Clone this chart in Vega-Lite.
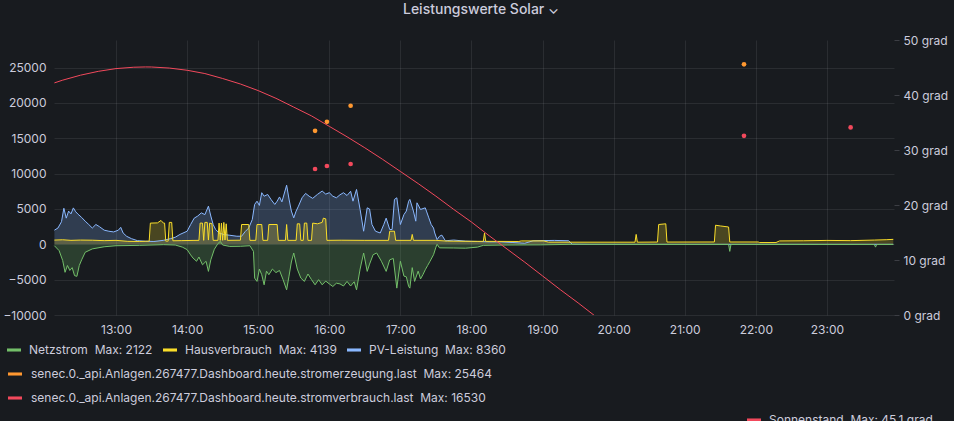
{
 "$schema": "https://vega.github.io/schema/vega-lite/v6.json",
 "width": 840,
 "height": 275,
 "autosize": {"type": "none"},
 "padding": {"left": 54, "top": 40, "right": 60, "bottom": 106},
 "background": "#181b1f",
 "title": {"text": "Leistungswerte Solar ⌄", "anchor": "middle", "dx": 7, "offset": 17, "fontSize": 14, "fontWeight": 500, "color": "#ccccdc", "font": "Inter"},
 "datasets": {
  "power": [
   {"t":"2023-09-05T12:08Z","s":"PV-Leistung","v":2000},{"t":"2023-09-05T12:11Z","s":"PV-Leistung","v":2300},{"t":"2023-09-05T12:14Z","s":"PV-Leistung","v":3200},{"t":"2023-09-05T12:16Z","s":"PV-Leistung","v":5100},{"t":"2023-09-05T12:18Z","s":"PV-Leistung","v":3700},{"t":"2023-09-05T12:20Z","s":"PV-Leistung","v":4700},{"t":"2023-09-05T12:22Z","s":"PV-Leistung","v":4300},{"t":"2023-09-05T12:24Z","s":"PV-Leistung","v":5150},{"t":"2023-09-05T12:26Z","s":"PV-Leistung","v":4600},{"t":"2023-09-05T12:28Z","s":"PV-Leistung","v":4250},{"t":"2023-09-05T12:31Z","s":"PV-Leistung","v":3800},{"t":"2023-09-05T12:34Z","s":"PV-Leistung","v":3270},{"t":"2023-09-05T12:37Z","s":"PV-Leistung","v":2800},{"t":"2023-09-05T12:40Z","s":"PV-Leistung","v":2300},{"t":"2023-09-05T12:43Z","s":"PV-Leistung","v":2800},{"t":"2023-09-05T12:46Z","s":"PV-Leistung","v":2500},{"t":"2023-09-05T12:50Z","s":"PV-Leistung","v":2000},{"t":"2023-09-05T12:54Z","s":"PV-Leistung","v":1850},{"t":"2023-09-05T12:58Z","s":"PV-Leistung","v":1750},{"t":"2023-09-05T13:02Z","s":"PV-Leistung","v":2000},{"t":"2023-09-05T13:04Z","s":"PV-Leistung","v":2400},{"t":"2023-09-05T13:06Z","s":"PV-Leistung","v":1600},{"t":"2023-09-05T13:09Z","s":"PV-Leistung","v":1130},{"t":"2023-09-05T13:13Z","s":"PV-Leistung","v":800},{"t":"2023-09-05T13:18Z","s":"PV-Leistung","v":520},{"t":"2023-09-05T13:25Z","s":"PV-Leistung","v":430},{"t":"2023-09-05T13:32Z","s":"PV-Leistung","v":400},{"t":"2023-09-05T13:40Z","s":"PV-Leistung","v":560},{"t":"2023-09-05T13:46Z","s":"PV-Leistung","v":800},{"t":"2023-09-05T13:50Z","s":"PV-Leistung","v":1000},{"t":"2023-09-05T13:54Z","s":"PV-Leistung","v":1400},{"t":"2023-09-05T14:00Z","s":"PV-Leistung","v":1850},{"t":"2023-09-05T14:03Z","s":"PV-Leistung","v":2800},{"t":"2023-09-05T14:06Z","s":"PV-Leistung","v":3700},{"t":"2023-09-05T14:09Z","s":"PV-Leistung","v":4000},{"t":"2023-09-05T14:12Z","s":"PV-Leistung","v":4450},{"t":"2023-09-05T14:15Z","s":"PV-Leistung","v":4200},{"t":"2023-09-05T14:18Z","s":"PV-Leistung","v":5400},{"t":"2023-09-05T14:20Z","s":"PV-Leistung","v":4000},{"t":"2023-09-05T14:22Z","s":"PV-Leistung","v":2800},{"t":"2023-09-05T14:24Z","s":"PV-Leistung","v":2100},{"t":"2023-09-05T14:27Z","s":"PV-Leistung","v":1600},{"t":"2023-09-05T14:31Z","s":"PV-Leistung","v":1380},{"t":"2023-09-05T14:36Z","s":"PV-Leistung","v":1280},{"t":"2023-09-05T14:42Z","s":"PV-Leistung","v":1140},{"t":"2023-09-05T14:46Z","s":"PV-Leistung","v":1140},{"t":"2023-09-05T14:49Z","s":"PV-Leistung","v":1800},{"t":"2023-09-05T14:52Z","s":"PV-Leistung","v":2300},{"t":"2023-09-05T14:55Z","s":"PV-Leistung","v":3500},{"t":"2023-09-05T14:57Z","s":"PV-Leistung","v":5640},{"t":"2023-09-05T14:59Z","s":"PV-Leistung","v":6100},{"t":"2023-09-05T15:01Z","s":"PV-Leistung","v":5500},{"t":"2023-09-05T15:03Z","s":"PV-Leistung","v":7300},{"t":"2023-09-05T15:05Z","s":"PV-Leistung","v":6800},{"t":"2023-09-05T15:08Z","s":"PV-Leistung","v":7050},{"t":"2023-09-05T15:11Z","s":"PV-Leistung","v":6300},{"t":"2023-09-05T15:14Z","s":"PV-Leistung","v":5640},{"t":"2023-09-05T15:16Z","s":"PV-Leistung","v":6100},{"t":"2023-09-05T15:18Z","s":"PV-Leistung","v":6700},{"t":"2023-09-05T15:20Z","s":"PV-Leistung","v":6000},{"t":"2023-09-05T15:24Z","s":"PV-Leistung","v":8360},{"t":"2023-09-05T15:26Z","s":"PV-Leistung","v":6400},{"t":"2023-09-05T15:28Z","s":"PV-Leistung","v":4700},{"t":"2023-09-05T15:30Z","s":"PV-Leistung","v":3740},{"t":"2023-09-05T15:32Z","s":"PV-Leistung","v":4700},{"t":"2023-09-05T15:34Z","s":"PV-Leistung","v":5400},{"t":"2023-09-05T15:37Z","s":"PV-Leistung","v":6580},{"t":"2023-09-05T15:40Z","s":"PV-Leistung","v":7200},{"t":"2023-09-05T15:43Z","s":"PV-Leistung","v":6800},{"t":"2023-09-05T15:46Z","s":"PV-Leistung","v":6500},{"t":"2023-09-05T15:50Z","s":"PV-Leistung","v":7060},{"t":"2023-09-05T15:54Z","s":"PV-Leistung","v":7530},{"t":"2023-09-05T15:57Z","s":"PV-Leistung","v":7100},{"t":"2023-09-05T16:00Z","s":"PV-Leistung","v":7300},{"t":"2023-09-05T16:03Z","s":"PV-Leistung","v":6800},{"t":"2023-09-05T16:06Z","s":"PV-Leistung","v":6580},{"t":"2023-09-05T16:09Z","s":"PV-Leistung","v":7000},{"t":"2023-09-05T16:12Z","s":"PV-Leistung","v":7300},{"t":"2023-09-05T16:15Z","s":"PV-Leistung","v":6900},{"t":"2023-09-05T16:18Z","s":"PV-Leistung","v":7500},{"t":"2023-09-05T16:20Z","s":"PV-Leistung","v":6100},{"t":"2023-09-05T16:23Z","s":"PV-Leistung","v":7760},{"t":"2023-09-05T16:26Z","s":"PV-Leistung","v":4930},{"t":"2023-09-05T16:29Z","s":"PV-Leistung","v":1850},{"t":"2023-09-05T16:32Z","s":"PV-Leistung","v":5160},{"t":"2023-09-05T16:34Z","s":"PV-Leistung","v":5000},{"t":"2023-09-05T16:36Z","s":"PV-Leistung","v":2800},{"t":"2023-09-05T16:39Z","s":"PV-Leistung","v":1850},{"t":"2023-09-05T16:43Z","s":"PV-Leistung","v":1600},{"t":"2023-09-05T16:46Z","s":"PV-Leistung","v":2800},{"t":"2023-09-05T16:48Z","s":"PV-Leistung","v":3700},{"t":"2023-09-05T16:51Z","s":"PV-Leistung","v":2100},{"t":"2023-09-05T16:53Z","s":"PV-Leistung","v":2090},{"t":"2023-09-05T16:55Z","s":"PV-Leistung","v":6350},{"t":"2023-09-05T16:57Z","s":"PV-Leistung","v":6580},{"t":"2023-09-05T17:00Z","s":"PV-Leistung","v":2800},{"t":"2023-09-05T17:03Z","s":"PV-Leistung","v":4200},{"t":"2023-09-05T17:05Z","s":"PV-Leistung","v":4700},{"t":"2023-09-05T17:07Z","s":"PV-Leistung","v":6100},{"t":"2023-09-05T17:08Z","s":"PV-Leistung","v":6350},{"t":"2023-09-05T17:11Z","s":"PV-Leistung","v":4700},{"t":"2023-09-05T17:13Z","s":"PV-Leistung","v":3270},{"t":"2023-09-05T17:14Z","s":"PV-Leistung","v":5870},{"t":"2023-09-05T17:17Z","s":"PV-Leistung","v":4930},{"t":"2023-09-05T17:21Z","s":"PV-Leistung","v":5160},{"t":"2023-09-05T17:22Z","s":"PV-Leistung","v":4700},{"t":"2023-09-05T17:24Z","s":"PV-Leistung","v":3740},{"t":"2023-09-05T17:26Z","s":"PV-Leistung","v":2800},{"t":"2023-09-05T17:28Z","s":"PV-Leistung","v":2300},{"t":"2023-09-05T17:29Z","s":"PV-Leistung","v":1600},{"t":"2023-09-05T17:31Z","s":"PV-Leistung","v":660},{"t":"2023-09-05T17:33Z","s":"PV-Leistung","v":1140},{"t":"2023-09-05T17:35Z","s":"PV-Leistung","v":1300},{"t":"2023-09-05T17:38Z","s":"PV-Leistung","v":500},{"t":"2023-09-05T17:45Z","s":"PV-Leistung","v":600},{"t":"2023-09-05T17:55Z","s":"PV-Leistung","v":450},{"t":"2023-09-05T18:05Z","s":"PV-Leistung","v":400},{"t":"2023-09-05T18:15Z","s":"PV-Leistung","v":350},{"t":"2023-09-05T18:25Z","s":"PV-Leistung","v":350},{"t":"2023-09-05T18:35Z","s":"PV-Leistung","v":250},{"t":"2023-09-05T18:45Z","s":"PV-Leistung","v":150},{"t":"2023-09-05T18:52Z","s":"PV-Leistung","v":500},{"t":"2023-09-05T19:10Z","s":"PV-Leistung","v":550},{"t":"2023-09-05T19:22Z","s":"PV-Leistung","v":500},{"t":"2023-09-05T19:25Z","s":"PV-Leistung","v":20},{"t":"2023-09-05T19:40Z","s":"PV-Leistung","v":0},{"t":"2023-09-05T21:00Z","s":"PV-Leistung","v":0},{"t":"2023-09-05T23:56Z","s":"PV-Leistung","v":0},
   {"t":"2023-09-05T12:08Z","s":"Netzstrom","v":-200},{"t":"2023-09-05T12:12Z","s":"Netzstrom","v":-900},{"t":"2023-09-05T12:15Z","s":"Netzstrom","v":-2300},{"t":"2023-09-05T12:17Z","s":"Netzstrom","v":-3960},{"t":"2023-09-05T12:19Z","s":"Netzstrom","v":-3000},{"t":"2023-09-05T12:21Z","s":"Netzstrom","v":-3700},{"t":"2023-09-05T12:23Z","s":"Netzstrom","v":-3300},{"t":"2023-09-05T12:25Z","s":"Netzstrom","v":-4430},{"t":"2023-09-05T12:27Z","s":"Netzstrom","v":-4530},{"t":"2023-09-05T12:29Z","s":"Netzstrom","v":-3000},{"t":"2023-09-05T12:31Z","s":"Netzstrom","v":-2200},{"t":"2023-09-05T12:34Z","s":"Netzstrom","v":-1130},{"t":"2023-09-05T12:40Z","s":"Netzstrom","v":-650},{"t":"2023-09-05T12:50Z","s":"Netzstrom","v":-350},{"t":"2023-09-05T13:00Z","s":"Netzstrom","v":-200},{"t":"2023-09-05T13:20Z","s":"Netzstrom","v":-150},{"t":"2023-09-05T13:40Z","s":"Netzstrom","v":-50},{"t":"2023-09-05T13:50Z","s":"Netzstrom","v":-100},{"t":"2023-09-05T13:56Z","s":"Netzstrom","v":-400},{"t":"2023-09-05T14:00Z","s":"Netzstrom","v":-750},{"t":"2023-09-05T14:03Z","s":"Netzstrom","v":-1500},{"t":"2023-09-05T14:05Z","s":"Netzstrom","v":-1950},{"t":"2023-09-05T14:08Z","s":"Netzstrom","v":-2400},{"t":"2023-09-05T14:10Z","s":"Netzstrom","v":-1800},{"t":"2023-09-05T14:13Z","s":"Netzstrom","v":-2900},{"t":"2023-09-05T14:16Z","s":"Netzstrom","v":-2400},{"t":"2023-09-05T14:18Z","s":"Netzstrom","v":-3830},{"t":"2023-09-05T14:20Z","s":"Netzstrom","v":-2200},{"t":"2023-09-05T14:23Z","s":"Netzstrom","v":-700},{"t":"2023-09-05T14:26Z","s":"Netzstrom","v":100},{"t":"2023-09-05T14:28Z","s":"Netzstrom","v":430},{"t":"2023-09-05T14:30Z","s":"Netzstrom","v":-100},{"t":"2023-09-05T14:36Z","s":"Netzstrom","v":-300},{"t":"2023-09-05T14:45Z","s":"Netzstrom","v":-280},{"t":"2023-09-05T14:53Z","s":"Netzstrom","v":-200},{"t":"2023-09-05T14:56Z","s":"Netzstrom","v":-1000},{"t":"2023-09-05T14:57Z","s":"Netzstrom","v":-4780},{"t":"2023-09-05T14:59Z","s":"Netzstrom","v":-5250},{"t":"2023-09-05T15:01Z","s":"Netzstrom","v":-3500},{"t":"2023-09-05T15:03Z","s":"Netzstrom","v":-4300},{"t":"2023-09-05T15:05Z","s":"Netzstrom","v":-5730},{"t":"2023-09-05T15:07Z","s":"Netzstrom","v":-3800},{"t":"2023-09-05T15:09Z","s":"Netzstrom","v":-4300},{"t":"2023-09-05T15:12Z","s":"Netzstrom","v":-3500},{"t":"2023-09-05T15:15Z","s":"Netzstrom","v":-4000},{"t":"2023-09-05T15:18Z","s":"Netzstrom","v":-3700},{"t":"2023-09-05T15:21Z","s":"Netzstrom","v":-5000},{"t":"2023-09-05T15:24Z","s":"Netzstrom","v":-6440},{"t":"2023-09-05T15:26Z","s":"Netzstrom","v":-4500},{"t":"2023-09-05T15:28Z","s":"Netzstrom","v":-2500},{"t":"2023-09-05T15:30Z","s":"Netzstrom","v":-1230},{"t":"2023-09-05T15:33Z","s":"Netzstrom","v":-3500},{"t":"2023-09-05T15:36Z","s":"Netzstrom","v":-4780},{"t":"2023-09-05T15:39Z","s":"Netzstrom","v":-5250},{"t":"2023-09-05T15:42Z","s":"Netzstrom","v":-4200},{"t":"2023-09-05T15:45Z","s":"Netzstrom","v":-5000},{"t":"2023-09-05T15:48Z","s":"Netzstrom","v":-5730},{"t":"2023-09-05T15:51Z","s":"Netzstrom","v":-5000},{"t":"2023-09-05T15:54Z","s":"Netzstrom","v":-5730},{"t":"2023-09-05T15:57Z","s":"Netzstrom","v":-5200},{"t":"2023-09-05T16:00Z","s":"Netzstrom","v":-5600},{"t":"2023-09-05T16:03Z","s":"Netzstrom","v":-5970},{"t":"2023-09-05T16:06Z","s":"Netzstrom","v":-5500},{"t":"2023-09-05T16:09Z","s":"Netzstrom","v":-5600},{"t":"2023-09-05T16:12Z","s":"Netzstrom","v":-5900},{"t":"2023-09-05T16:15Z","s":"Netzstrom","v":-5250},{"t":"2023-09-05T16:18Z","s":"Netzstrom","v":-5900},{"t":"2023-09-05T16:21Z","s":"Netzstrom","v":-5300},{"t":"2023-09-05T16:23Z","s":"Netzstrom","v":-6440},{"t":"2023-09-05T16:26Z","s":"Netzstrom","v":-3500},{"t":"2023-09-05T16:29Z","s":"Netzstrom","v":-1230},{"t":"2023-09-05T16:32Z","s":"Netzstrom","v":-3830},{"t":"2023-09-05T16:34Z","s":"Netzstrom","v":-2800},{"t":"2023-09-05T16:37Z","s":"Netzstrom","v":-1470},{"t":"2023-09-05T16:40Z","s":"Netzstrom","v":-1230},{"t":"2023-09-05T16:44Z","s":"Netzstrom","v":-2400},{"t":"2023-09-05T16:48Z","s":"Netzstrom","v":-3830},{"t":"2023-09-05T16:51Z","s":"Netzstrom","v":-2200},{"t":"2023-09-05T16:54Z","s":"Netzstrom","v":-2000},{"t":"2023-09-05T16:57Z","s":"Netzstrom","v":-6200},{"t":"2023-09-05T17:00Z","s":"Netzstrom","v":-2400},{"t":"2023-09-05T17:03Z","s":"Netzstrom","v":-4500},{"t":"2023-09-05T17:05Z","s":"Netzstrom","v":-4600},{"t":"2023-09-05T17:07Z","s":"Netzstrom","v":-5970},{"t":"2023-09-05T17:08Z","s":"Netzstrom","v":-6200},{"t":"2023-09-05T17:10Z","s":"Netzstrom","v":-3300},{"t":"2023-09-05T17:12Z","s":"Netzstrom","v":-5250},{"t":"2023-09-05T17:15Z","s":"Netzstrom","v":-3800},{"t":"2023-09-05T17:17Z","s":"Netzstrom","v":-4900},{"t":"2023-09-05T17:19Z","s":"Netzstrom","v":-4300},{"t":"2023-09-05T17:21Z","s":"Netzstrom","v":-3600},{"t":"2023-09-05T17:23Z","s":"Netzstrom","v":-3000},{"t":"2023-09-05T17:25Z","s":"Netzstrom","v":-2400},{"t":"2023-09-05T17:28Z","s":"Netzstrom","v":-1470},{"t":"2023-09-05T17:30Z","s":"Netzstrom","v":-400},{"t":"2023-09-05T17:31Z","s":"Netzstrom","v":0},{"t":"2023-09-05T17:33Z","s":"Netzstrom","v":-500},{"t":"2023-09-05T17:45Z","s":"Netzstrom","v":-520},{"t":"2023-09-05T17:55Z","s":"Netzstrom","v":-550},{"t":"2023-09-05T18:05Z","s":"Netzstrom","v":-400},{"t":"2023-09-05T18:10Z","s":"Netzstrom","v":-150},{"t":"2023-09-05T18:30Z","s":"Netzstrom","v":-100},{"t":"2023-09-05T18:58Z","s":"Netzstrom","v":-80},{"t":"2023-09-05T19:25Z","s":"Netzstrom","v":0},{"t":"2023-09-05T20:30Z","s":"Netzstrom","v":-20},{"t":"2023-09-05T21:37Z","s":"Netzstrom","v":-20},{"t":"2023-09-05T21:38Z","s":"Netzstrom","v":-1000},{"t":"2023-09-05T21:39Z","s":"Netzstrom","v":-20},{"t":"2023-09-05T23:40Z","s":"Netzstrom","v":-30},{"t":"2023-09-05T23:41Z","s":"Netzstrom","v":-400},{"t":"2023-09-05T23:42Z","s":"Netzstrom","v":-30},{"t":"2023-09-05T23:56Z","s":"Netzstrom","v":-20},
   {"t":"2023-09-05T12:08Z","s":"Hausverbrauch","v":600},{"t":"2023-09-05T12:15Z","s":"Hausverbrauch","v":640},{"t":"2023-09-05T12:22Z","s":"Hausverbrauch","v":560},{"t":"2023-09-05T12:30Z","s":"Hausverbrauch","v":600},{"t":"2023-09-05T12:40Z","s":"Hausverbrauch","v":580},{"t":"2023-09-05T12:50Z","s":"Hausverbrauch","v":520},{"t":"2023-09-05T13:00Z","s":"Hausverbrauch","v":560},{"t":"2023-09-05T13:10Z","s":"Hausverbrauch","v":420},{"t":"2023-09-05T13:20Z","s":"Hausverbrauch","v":400},{"t":"2023-09-05T13:28Z","s":"Hausverbrauch","v":450},{"t":"2023-09-05T13:29Z","s":"Hausverbrauch","v":3000},{"t":"2023-09-05T13:35Z","s":"Hausverbrauch","v":3030},{"t":"2023-09-05T13:38Z","s":"Hausverbrauch","v":3370},{"t":"2023-09-05T13:40Z","s":"Hausverbrauch","v":3000},{"t":"2023-09-05T13:41Z","s":"Hausverbrauch","v":3000},{"t":"2023-09-05T13:42Z","s":"Hausverbrauch","v":450},{"t":"2023-09-05T13:44Z","s":"Hausverbrauch","v":450},{"t":"2023-09-05T13:45Z","s":"Hausverbrauch","v":3100},{"t":"2023-09-05T13:47Z","s":"Hausverbrauch","v":3100},{"t":"2023-09-05T13:48Z","s":"Hausverbrauch","v":500},{"t":"2023-09-05T13:55Z","s":"Hausverbrauch","v":520},{"t":"2023-09-05T14:05Z","s":"Hausverbrauch","v":550},{"t":"2023-09-05T14:10Z","s":"Hausverbrauch","v":560},{"t":"2023-09-05T14:11Z","s":"Hausverbrauch","v":3000},{"t":"2023-09-05T14:13Z","s":"Hausverbrauch","v":3000},{"t":"2023-09-05T14:14Z","s":"Hausverbrauch","v":560},{"t":"2023-09-05T14:15Z","s":"Hausverbrauch","v":3100},{"t":"2023-09-05T14:17Z","s":"Hausverbrauch","v":3100},{"t":"2023-09-05T14:18Z","s":"Hausverbrauch","v":600},{"t":"2023-09-05T14:19Z","s":"Hausverbrauch","v":3000},{"t":"2023-09-05T14:21Z","s":"Hausverbrauch","v":2900},{"t":"2023-09-05T14:22Z","s":"Hausverbrauch","v":560},{"t":"2023-09-05T14:26Z","s":"Hausverbrauch","v":560},{"t":"2023-09-05T14:27Z","s":"Hausverbrauch","v":3000},{"t":"2023-09-05T14:28Z","s":"Hausverbrauch","v":560},{"t":"2023-09-05T14:29Z","s":"Hausverbrauch","v":3000},{"t":"2023-09-05T14:30Z","s":"Hausverbrauch","v":560},{"t":"2023-09-05T14:31Z","s":"Hausverbrauch","v":3100},{"t":"2023-09-05T14:32Z","s":"Hausverbrauch","v":600},{"t":"2023-09-05T14:33Z","s":"Hausverbrauch","v":2900},{"t":"2023-09-05T14:34Z","s":"Hausverbrauch","v":560},{"t":"2023-09-05T14:45Z","s":"Hausverbrauch","v":580},{"t":"2023-09-05T14:46Z","s":"Hausverbrauch","v":2800},{"t":"2023-09-05T14:52Z","s":"Hausverbrauch","v":2800},{"t":"2023-09-05T14:53Z","s":"Hausverbrauch","v":560},{"t":"2023-09-05T14:58Z","s":"Hausverbrauch","v":560},{"t":"2023-09-05T14:59Z","s":"Hausverbrauch","v":2800},{"t":"2023-09-05T15:03Z","s":"Hausverbrauch","v":2800},{"t":"2023-09-05T15:04Z","s":"Hausverbrauch","v":560},{"t":"2023-09-05T15:08Z","s":"Hausverbrauch","v":560},{"t":"2023-09-05T15:09Z","s":"Hausverbrauch","v":2800},{"t":"2023-09-05T15:16Z","s":"Hausverbrauch","v":2800},{"t":"2023-09-05T15:17Z","s":"Hausverbrauch","v":560},{"t":"2023-09-05T15:23Z","s":"Hausverbrauch","v":560},{"t":"2023-09-05T15:24Z","s":"Hausverbrauch","v":2800},{"t":"2023-09-05T15:25Z","s":"Hausverbrauch","v":560},{"t":"2023-09-05T15:32Z","s":"Hausverbrauch","v":560},{"t":"2023-09-05T15:33Z","s":"Hausverbrauch","v":2900},{"t":"2023-09-05T15:35Z","s":"Hausverbrauch","v":2900},{"t":"2023-09-05T15:36Z","s":"Hausverbrauch","v":560},{"t":"2023-09-05T15:38Z","s":"Hausverbrauch","v":560},{"t":"2023-09-05T15:39Z","s":"Hausverbrauch","v":3000},{"t":"2023-09-05T15:41Z","s":"Hausverbrauch","v":3000},{"t":"2023-09-05T15:42Z","s":"Hausverbrauch","v":560},{"t":"2023-09-05T15:45Z","s":"Hausverbrauch","v":560},{"t":"2023-09-05T15:46Z","s":"Hausverbrauch","v":3000},{"t":"2023-09-05T15:50Z","s":"Hausverbrauch","v":2900},{"t":"2023-09-05T15:54Z","s":"Hausverbrauch","v":3100},{"t":"2023-09-05T15:55Z","s":"Hausverbrauch","v":3700},{"t":"2023-09-05T15:57Z","s":"Hausverbrauch","v":3600},{"t":"2023-09-05T15:58Z","s":"Hausverbrauch","v":560},{"t":"2023-09-05T16:10Z","s":"Hausverbrauch","v":580},{"t":"2023-09-05T16:30Z","s":"Hausverbrauch","v":560},{"t":"2023-09-05T16:50Z","s":"Hausverbrauch","v":560},{"t":"2023-09-05T16:51Z","s":"Hausverbrauch","v":1850},{"t":"2023-09-05T16:55Z","s":"Hausverbrauch","v":1850},{"t":"2023-09-05T16:56Z","s":"Hausverbrauch","v":560},{"t":"2023-09-05T17:09Z","s":"Hausverbrauch","v":560},{"t":"2023-09-05T17:10Z","s":"Hausverbrauch","v":1400},{"t":"2023-09-05T17:11Z","s":"Hausverbrauch","v":560},{"t":"2023-09-05T17:30Z","s":"Hausverbrauch","v":560},{"t":"2023-09-05T17:40Z","s":"Hausverbrauch","v":450},{"t":"2023-09-05T18:00Z","s":"Hausverbrauch","v":420},{"t":"2023-09-05T18:10Z","s":"Hausverbrauch","v":420},{"t":"2023-09-05T18:11Z","s":"Hausverbrauch","v":1600},{"t":"2023-09-05T18:12Z","s":"Hausverbrauch","v":420},{"t":"2023-09-05T18:40Z","s":"Hausverbrauch","v":400},{"t":"2023-09-05T18:42Z","s":"Hausverbrauch","v":480},{"t":"2023-09-05T19:01Z","s":"Hausverbrauch","v":480},{"t":"2023-09-05T19:05Z","s":"Hausverbrauch","v":300},{"t":"2023-09-05T20:18Z","s":"Hausverbrauch","v":300},{"t":"2023-09-05T20:19Z","s":"Hausverbrauch","v":1400},{"t":"2023-09-05T20:20Z","s":"Hausverbrauch","v":300},{"t":"2023-09-05T20:37Z","s":"Hausverbrauch","v":320},{"t":"2023-09-05T20:38Z","s":"Hausverbrauch","v":2800},{"t":"2023-09-05T20:44Z","s":"Hausverbrauch","v":2900},{"t":"2023-09-05T20:45Z","s":"Hausverbrauch","v":320},{"t":"2023-09-05T21:25Z","s":"Hausverbrauch","v":330},{"t":"2023-09-05T21:26Z","s":"Hausverbrauch","v":2700},{"t":"2023-09-05T21:30Z","s":"Hausverbrauch","v":2600},{"t":"2023-09-05T21:37Z","s":"Hausverbrauch","v":2450},{"t":"2023-09-05T21:38Z","s":"Hausverbrauch","v":330},{"t":"2023-09-05T22:02Z","s":"Hausverbrauch","v":330},{"t":"2023-09-05T22:03Z","s":"Hausverbrauch","v":250},{"t":"2023-09-05T22:17Z","s":"Hausverbrauch","v":250},{"t":"2023-09-05T22:20Z","s":"Hausverbrauch","v":480},{"t":"2023-09-05T22:40Z","s":"Hausverbrauch","v":500},{"t":"2023-09-05T23:00Z","s":"Hausverbrauch","v":550},{"t":"2023-09-05T23:20Z","s":"Hausverbrauch","v":520},{"t":"2023-09-05T23:40Z","s":"Hausverbrauch","v":600},{"t":"2023-09-05T23:50Z","s":"Hausverbrauch","v":650},{"t":"2023-09-05T23:56Z","s":"Hausverbrauch","v":700}
  ],
  "senec": [
   {"t":"2023-09-05T15:48Z","s":"senec.0._api.Anlagen.267477.Dashboard.heute.stromerzeugung.last","v":16050},
   {"t":"2023-09-05T15:58Z","s":"senec.0._api.Anlagen.267477.Dashboard.heute.stromerzeugung.last","v":17330},
   {"t":"2023-09-05T16:18Z","s":"senec.0._api.Anlagen.267477.Dashboard.heute.stromerzeugung.last","v":19600},
   {"t":"2023-09-05T21:50Z","s":"senec.0._api.Anlagen.267477.Dashboard.heute.stromerzeugung.last","v":25464},
   {"t":"2023-09-05T15:48Z","s":"senec.0._api.Anlagen.267477.Dashboard.heute.stromverbrauch.last","v":10650},
   {"t":"2023-09-05T15:58Z","s":"senec.0._api.Anlagen.267477.Dashboard.heute.stromverbrauch.last","v":11080},
   {"t":"2023-09-05T16:18Z","s":"senec.0._api.Anlagen.267477.Dashboard.heute.stromverbrauch.last","v":11360},
   {"t":"2023-09-05T21:50Z","s":"senec.0._api.Anlagen.267477.Dashboard.heute.stromverbrauch.last","v":15340},
   {"t":"2023-09-05T23:20Z","s":"senec.0._api.Anlagen.267477.Dashboard.heute.stromverbrauch.last","v":16530}
  ],
  "sun": [
   {"t":"2023-09-05T12:08Z","s":"Sonnenstand","e":42.2},{"t":"2023-09-05T12:15Z","s":"Sonnenstand","e":42.7},{"t":"2023-09-05T12:30Z","s":"Sonnenstand","e":43.6},{"t":"2023-09-05T12:45Z","s":"Sonnenstand","e":44.3},{"t":"2023-09-05T13:00Z","s":"Sonnenstand","e":44.8},{"t":"2023-09-05T13:15Z","s":"Sonnenstand","e":45.05},{"t":"2023-09-05T13:25Z","s":"Sonnenstand","e":45.1},{"t":"2023-09-05T13:30Z","s":"Sonnenstand","e":45.09},{"t":"2023-09-05T13:45Z","s":"Sonnenstand","e":44.9},{"t":"2023-09-05T14:00Z","s":"Sonnenstand","e":44.5},{"t":"2023-09-05T14:15Z","s":"Sonnenstand","e":43.9},{"t":"2023-09-05T14:30Z","s":"Sonnenstand","e":43.0},{"t":"2023-09-05T14:45Z","s":"Sonnenstand","e":42.0},{"t":"2023-09-05T15:00Z","s":"Sonnenstand","e":40.8},{"t":"2023-09-05T15:15Z","s":"Sonnenstand","e":39.4},{"t":"2023-09-05T15:30Z","s":"Sonnenstand","e":37.8},{"t":"2023-09-05T15:45Z","s":"Sonnenstand","e":36.2},{"t":"2023-09-05T16:00Z","s":"Sonnenstand","e":34.3},{"t":"2023-09-05T16:15Z","s":"Sonnenstand","e":32.4},{"t":"2023-09-05T16:30Z","s":"Sonnenstand","e":30.4},{"t":"2023-09-05T16:45Z","s":"Sonnenstand","e":28.3},{"t":"2023-09-05T17:00Z","s":"Sonnenstand","e":26.1},{"t":"2023-09-05T17:15Z","s":"Sonnenstand","e":23.9},{"t":"2023-09-05T17:30Z","s":"Sonnenstand","e":21.6},{"t":"2023-09-05T17:45Z","s":"Sonnenstand","e":19.2},{"t":"2023-09-05T18:00Z","s":"Sonnenstand","e":16.9},{"t":"2023-09-05T18:15Z","s":"Sonnenstand","e":14.4},{"t":"2023-09-05T18:30Z","s":"Sonnenstand","e":12.0},{"t":"2023-09-05T18:45Z","s":"Sonnenstand","e":9.6},{"t":"2023-09-05T19:00Z","s":"Sonnenstand","e":7.1},{"t":"2023-09-05T19:15Z","s":"Sonnenstand","e":4.6},{"t":"2023-09-05T19:30Z","s":"Sonnenstand","e":2.2},{"t":"2023-09-05T19:45Z","s":"Sonnenstand","e":-0.3},{"t":"2023-09-05T20:00Z","s":"Sonnenstand","e":-2.8}
  ]
 },
 "encoding": {
  "x": {
   "field": "t", "type": "temporal",
   "scale": {"type": "utc", "nice": false, "domain": [
    {"year": 2023, "month": 9, "date": 5, "hours": 12, "minutes": 7, "seconds": 40, "utc": true},
    {"year": 2023, "month": 9, "date": 5, "hours": 23, "minutes": 56, "seconds": 36, "utc": true}
   ]},
   "axis": {
    "title": null, "format": "%H:%M", "ticks": false, "domain": false, "grid": true, "labelPadding": 9, "labelFlush": false,
    "values": [
     {"year": 2023, "month": 9, "date": 5, "hours": 13, "utc": true},
     {"year": 2023, "month": 9, "date": 5, "hours": 14, "utc": true},
     {"year": 2023, "month": 9, "date": 5, "hours": 15, "utc": true},
     {"year": 2023, "month": 9, "date": 5, "hours": 16, "utc": true},
     {"year": 2023, "month": 9, "date": 5, "hours": 17, "utc": true},
     {"year": 2023, "month": 9, "date": 5, "hours": 18, "utc": true},
     {"year": 2023, "month": 9, "date": 5, "hours": 19, "utc": true},
     {"year": 2023, "month": 9, "date": 5, "hours": 20, "utc": true},
     {"year": 2023, "month": 9, "date": 5, "hours": 21, "utc": true},
     {"year": 2023, "month": 9, "date": 5, "hours": 22, "utc": true},
     {"year": 2023, "month": 9, "date": 5, "hours": 23, "utc": true}
    ]
   }
  }
 },
 "layer": [
  {
   "encoding": {
    "y": {
     "field": "v", "type": "quantitative", "stack": null,
     "scale": {"domain": [-10000, 28900], "nice": false, "zero": false},
     "axis": {"title": null, "orient": "left", "values": [-10000, -5000, 0, 5000, 10000, 15000, 20000, 25000], "format": "d", "ticks": false, "domain": false, "grid": true, "labelPadding": 8}
    }
   },
   "layer": [
    {
     "data": {"name": "power"},
     "mark": {"type": "area", "fillOpacity": 0.22},
     "encoding": {
      "color": {
       "field": "s", "type": "nominal",
       "scale": {"domain": ["Netzstrom", "Hausverbrauch", "PV-Leistung"], "range": ["#73bf69", "#fade2a", "#8ab8ff"]},
       "legend": {
        "title": null, "orient": "none", "direction": "horizontal", "legendX": -47, "legendY": 303,
        "symbolType": "M-1,-0.22L1,-0.22L1,0.22L-1,0.22Z", "symbolSize": 196, "labelOffset": 8, "columnPadding": 10,
        "labelExpr": "datum.label + '\u00a0\u00a0Max: ' + (datum.label == 'Netzstrom' ? '2122' : datum.label == 'Hausverbrauch' ? '4139' : '8360')",
        "encode": {"symbols": {"update": {"fill": {"scale": "color", "field": "value"}, "fillOpacity": {"value": 1}, "opacity": {"value": 1}, "strokeWidth": {"value": 0}}}}
       }
      }
     }
    },
    {
     "data": {"name": "power"},
     "mark": {"type": "line", "strokeWidth": 1},
     "encoding": {
      "color": {
       "field": "s", "type": "nominal",
       "scale": {"domain": ["Netzstrom", "Hausverbrauch", "PV-Leistung"], "range": ["#73bf69", "#fade2a", "#8ab8ff"]},
       "legend": {
        "title": null, "orient": "none", "direction": "horizontal", "legendX": -47, "legendY": 303,
        "symbolType": "M-1,-0.22L1,-0.22L1,0.22L-1,0.22Z", "symbolSize": 196, "labelOffset": 8, "columnPadding": 10,
        "labelExpr": "datum.label + '\u00a0\u00a0Max: ' + (datum.label == 'Netzstrom' ? '2122' : datum.label == 'Hausverbrauch' ? '4139' : '8360')",
        "encode": {"symbols": {"update": {"fill": {"scale": "color", "field": "value"}, "fillOpacity": {"value": 1}, "opacity": {"value": 1}, "strokeWidth": {"value": 0}}}}
       }
      }
     }
    },
    {
     "data": {"name": "senec"},
     "mark": {"type": "point", "filled": true, "size": 22, "opacity": 1},
     "encoding": {
      "fill": {
       "field": "s", "type": "nominal",
       "scale": {"domain": ["senec.0._api.Anlagen.267477.Dashboard.heute.stromerzeugung.last", "senec.0._api.Anlagen.267477.Dashboard.heute.stromverbrauch.last"], "range": ["#ff9830", "#f2495c"]},
       "legend": {
        "title": null, "orient": "none", "direction": "vertical", "legendX": -47, "legendY": 326, "rowPadding": 10,
        "symbolType": "M-1,-0.22L1,-0.22L1,0.22L-1,0.22Z", "symbolSize": 196, "labelOffset": 8,
        "labelExpr": "datum.label + '\u00a0\u00a0Max: ' + (indexof(datum.label, 'erzeugung') >= 0 ? '25464' : '16530')",
        "encode": {"symbols": {"update": {"fill": {"scale": "fill", "field": "value"}, "fillOpacity": {"value": 1}, "opacity": {"value": 1}, "strokeWidth": {"value": 0}}}}
       }
      }
     }
    }
   ]
  },
  {
   "data": {"name": "sun"},
   "mark": {"type": "line", "strokeWidth": 1, "clip": true},
   "encoding": {
    "y": {
     "field": "e", "type": "quantitative",
     "scale": {"domain": [0, 50], "nice": false},
     "axis": {"title": null, "orient": "right", "values": [0, 10, 20, 30, 40, 50], "labelExpr": "datum.value + ' grad'", "grid": false, "ticks": true, "tickSize": 5, "domain": false, "labelPadding": 4}
    },
    "stroke": {
     "field": "s", "type": "nominal",
     "scale": {"domain": ["Sonnenstand"], "range": ["#f2495c"]},
     "legend": {
      "title": null, "orient": "none", "direction": "horizontal", "legendX": 693, "legendY": 373,
      "symbolType": "M-1,-0.22L1,-0.22L1,0.22L-1,0.22Z", "symbolSize": 196, "labelOffset": 8,
      "labelExpr": "datum.label + '\u00a0\u00a0Max: 45.1 grad'",
      "encode": {"symbols": {"update": {"fill": {"scale": "stroke", "field": "value"}, "fillOpacity": {"value": 1}, "opacity": {"value": 1}, "strokeWidth": {"value": 0}}}}
     }
    }
   }
  }
 ],
 "resolve": {"scale": {"y": "independent"}},
 "config": {
  "font": "Inter",
  "view": {"stroke": null},
  "axis": {"labelColor": "#ccccdc", "labelFontSize": 12, "labelFont": "Inter", "gridColor": "#ccccdc", "gridOpacity": 0.1, "tickColor": "#ccccdc", "tickOpacity": 0.2},
  "legend": {"labelColor": "#ccccdc", "labelFontSize": 12, "labelFont": "Inter", "labelLimit": 0}
 }
}
